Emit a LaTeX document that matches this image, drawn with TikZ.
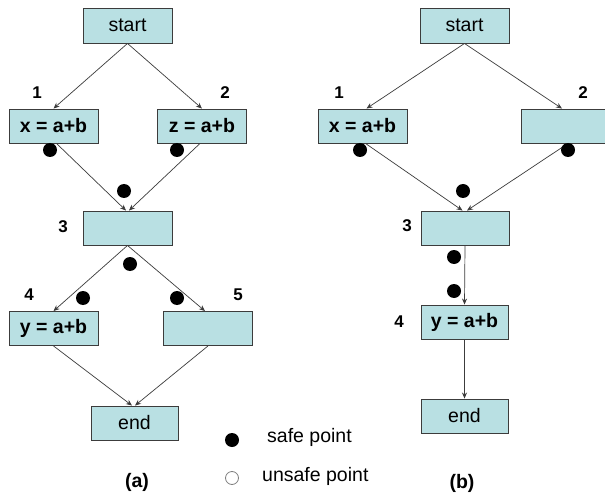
\documentclass[tikz,border=0pt]{standalone}
\usepackage{fontspec}
\setmainfont{Liberation Sans}
\usetikzlibrary{arrows.meta}
\definecolor{boxfill}{RGB}{185,224,227}
\definecolor{edgegray}{RGB}{60,60,60}
\begin{document}
\begin{tikzpicture}[x=1bp,y=-1bp,
  blk/.style={draw=edgegray, line width=0.9bp, fill=boxfill, minimum width=89bp,
              minimum height=34bp, inner sep=0pt, font=\fontsize{19.5bp}{22bp}\selectfont},
  bold/.style={font=\fontsize{19.5bp}{22bp}\selectfont\bfseries},
  num/.style={font=\fontsize{17bp}{19bp}\selectfont\bfseries, inner sep=0pt},
  legtxt/.style={font=\fontsize{19.5bp}{22bp}\selectfont, inner sep=0pt, anchor=west},
  flow/.style={draw=edgegray, line width=0.7bp, -{Stealth[length=6bp,width=5bp]}},
  safe/.style={circle, fill=black, minimum size=14bp, inner sep=0pt},
  unsafe/.style={circle, draw=gray, line width=0.8bp, fill=white, minimum size=13bp, inner sep=0pt}
]
\fill[white] (0,0) rectangle (605,493);
\useasboundingbox (0,0) rectangle (605,493);

% ---------- graph (a) ----------
\node[blk, minimum height=35bp] (sa) at (127.5,25.5) {start};
\node[blk, bold] (a1) at (53.5,126) {x = a+b};
\node[blk, bold] (a2) at (202,126) {z = a+b};
\node[blk] (a3) at (127.5,228) {};
\node[blk, bold] (a4) at (53.5,328.5) {y = a+b};
\node[blk] (a5) at (208,328.5) {};
\node[blk, minimum width=87bp] (ae) at (134.5,423) {end};

\node[num] (la1) at (37,93) {1};
\node[num] (la2) at (225,93) {2};
\node[num] (la3) at (63,227) {3};
\node[num] (la4) at (29,295) {4};
\node[num] (la5) at (238,295) {5};

\draw[flow] (sa.south) -- (a1.north);
\draw[flow] (sa.south) -- (a2.north);
\draw[flow] ([xshift=3bp]a1.south) -- ([xshift=-1.5bp]a3.north);
\draw[flow] ([xshift=-2bp]a2.south) -- ([xshift=1.5bp]a3.north);
\draw[flow] (a3.south) -- (a4.north);
\draw[flow] (a3.south) -- ([xshift=-3bp]a5.north);
\draw[flow] (a4.south) -- ([xshift=-2.5bp]ae.north);
\draw[flow] (a5.south) -- ([xshift=0.5bp]ae.north);

\node[safe] (da1) at (50,150) {};
\node[safe] (da2) at (177,150) {};
\node[safe] (da3) at (124,191) {};
\node[safe] (da4) at (130,264) {};
\node[safe] (da5) at (83,298) {};
\node[safe] (da6) at (177,298) {};

\node[bold, inner sep=0pt] (capa) at (137,482) {(a)};

% ---------- graph (b) ----------
\node[blk, minimum height=35bp] (sb) at (464.5,25.5) {start};
\node[blk, bold] (b1) at (362.5,126) {x = a+b};
\node[blk] (b2) at (566,126) {};
\node[blk, minimum width=88bp] (b3) at (465,228) {};
\node[blk, bold, minimum width=87bp] (b4) at (464.5,322) {y = a+b};
\node[blk, minimum width=87bp] (be) at (464.5,416) {end};

\node[num] (lb1) at (339,93) {1};
\node[num] (lb2) at (583,93) {2};
\node[num] (lb3) at (407,226) {3};
\node[num] (lb4) at (399,322) {4};

\draw[flow] (sb.south) -- ([xshift=4bp]b1.north);
\draw[flow] (sb.south) -- ([xshift=-4bp]b2.north);
\draw[flow] ([xshift=3bp]b1.south) -- ([xshift=-2.5bp]b3.north);
\draw[flow] ([xshift=2bp]b2.south) -- ([xshift=2bp]b3.north);
\draw[flow] (b3.south) -- (b4.north);
\draw[flow] (b4.south) -- (be.north);

\node[safe] (db1) at (360,150) {};
\node[safe] (db2) at (568,150) {};
\node[safe] (db3) at (463,191) {};
\node[safe] (db4) at (454,257) {};
\node[safe] (db5) at (454,291) {};

\node[bold, inner sep=0pt] (capb) at (462,483) {(b)};

% ---------- legend ----------
\node[safe] (keysafe) at (232,440) {};
\node[legtxt] (keysafetxt) at (267,437) {safe point};
\node[unsafe] (keyunsafe) at (232,478) {};
\node[legtxt] (keyunsafetxt) at (262,476) {unsafe point};
\end{tikzpicture}
\end{document}
